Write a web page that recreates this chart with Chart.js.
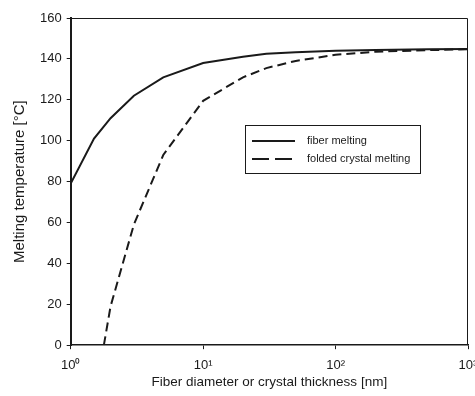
<!DOCTYPE html>
<html>
<head>
<meta charset="utf-8">
<script src="https://cdn.jsdelivr.net/npm/chart.js@4"></script>
<style>
  body { margin: 0; background: #fff; }
  #wrap { width: 475px; height: 396px; }
</style>
</head>
<body>
<div id="wrap"><canvas id="meltChart" width="475" height="396"></canvas></div>
<script>
// values
const fiberX = [1, 1.5, 2, 3, 5, 10, 20, 30, 50, 100, 200, 500, 1000];
const fiberY = [79, 101, 111, 122, 131, 138, 141, 142.5, 143.3, 144, 144.4, 144.7, 144.8];
const crystalX = [1.78, 2, 3, 5, 10, 20, 30, 50, 100, 200, 500, 1000];
const crystalY = [0, 19, 59, 93, 119.5, 131, 135.5, 139, 142, 143.5, 144.3, 144.7];
const seriesNames = ['fiber melting', 'folded crystal melting'];
const xTicks = [1, 10, 100, 1000];
const xTickLabels = ['10\u2070', '10\u00b9', '10\u00b2', '10\u00b3'];
const yTicks = [0, 20, 40, 60, 80, 100, 120, 140, 160];

const FONT = '"Liberation Sans", Arial, sans-serif';
const INK = '#1a1a1a';

function toPoints(xs, ys) {
    return xs.map(function (x, i) { return { x: x, y: ys[i] }; });
}

// box around the plot + the legend inside it
const framePlugin = {
    id: 'frame',
    afterDraw: function (chart) {
        const ctx = chart.ctx;
        const a = chart.chartArea;
        ctx.save();
        ctx.strokeStyle = INK;
        ctx.lineWidth = 1;
        ctx.beginPath();
        ctx.moveTo(a.left, a.top + 0.5);
        ctx.lineTo(a.right - 0.5, a.top + 0.5);
        ctx.lineTo(a.right - 0.5, a.bottom);
        ctx.stroke();

        // legend
        const bx = 245, by = 125, bw = 175, bh = 48;
        ctx.fillStyle = '#fff';
        ctx.fillRect(bx, by, bw, bh);
        ctx.strokeRect(bx + 0.5, by + 0.5, bw, bh);
        ctx.font = '11px ' + FONT;
        ctx.textBaseline = 'middle';
        chart.data.datasets.forEach(function (ds, i) {
            const y = by + 16 + i * 18;
            ctx.strokeStyle = INK;
            ctx.lineWidth = 2;
            ctx.setLineDash(ds.borderDash ? [17, 6] : []);
            ctx.beginPath();
            ctx.moveTo(bx + 7, y);
            ctx.lineTo(bx + 50, y);
            ctx.stroke();
            ctx.setLineDash([]);
            ctx.fillStyle = INK;
            ctx.fillText(ds.label, bx + 62, y);
        });
        ctx.restore();
    }
};

const meltChart = new Chart(document.getElementById('meltChart'), {
    type: 'line',
    data: {
        datasets: [{
            label: seriesNames[0],
            data: toPoints(fiberX, fiberY),
            borderColor: INK,
            borderWidth: 2,
            pointRadius: 0,
            tension: 0,
            fill: false
        }, {
            label: seriesNames[1],
            data: toPoints(crystalX, crystalY),
            borderColor: INK,
            borderWidth: 2,
            borderDash: [9, 5],
            pointRadius: 0,
            tension: 0,
            fill: false
        }]
    },
    options: {
        responsive: false,
        animation: false,
        layout: {
            padding: { top: 18, right: 7, left: 11, bottom: 6 }
        },
        plugins: {
            legend: { display: false },
            tooltip: { enabled: false }
        },
        scales: {
            x: {
                type: 'logarithmic',
                min: 1,
                max: 1000,
                afterBuildTicks: function (axis) {
                    axis.ticks = xTicks.map(function (v) { return { value: v }; });
                },
                // let the 10^3 label run past the edge, like the original
                afterFit: function (axis) {
                    axis.paddingRight = 0;
                },
                ticks: {
                    color: INK,
                    font: { family: FONT, size: 13 },
                    padding: 8,
                    maxRotation: 0,
                    autoSkip: false,
                    callback: function (v) {
                        const i = xTicks.indexOf(v);
                        return i >= 0 ? xTickLabels[i] : '';
                    }
                },
                grid: { drawOnChartArea: false, drawTicks: true, tickLength: 4, color: INK },
                border: { color: INK, width: 1.5 },
                title: {
                    display: true,
                    text: 'Fiber diameter or crystal thickness [nm]',
                    color: INK,
                    font: { family: FONT, size: 13.5 },
                    padding: { top: -7, bottom: 0 }
                }
            },
            y: {
                min: 0,
                max: 160,
                afterBuildTicks: function (axis) {
                    axis.ticks = yTicks.map(function (v) { return { value: v }; });
                },
                afterFit: function (axis) {
                    axis.paddingTop = 0;
                },
                ticks: {
                    color: INK,
                    font: { family: FONT, size: 13 },
                    padding: 5
                },
                grid: { drawOnChartArea: false, drawTicks: true, tickLength: 4, color: INK },
                border: { color: INK, width: 2 },
                title: {
                    display: true,
                    text: 'Melting temperature [\u00b0C]',
                    color: INK,
                    font: { family: FONT, size: 15 },
                    padding: { top: 0, bottom: 6 }
                }
            }
        }
    },
    plugins: [framePlugin]
});
</script>
</body>
</html>
